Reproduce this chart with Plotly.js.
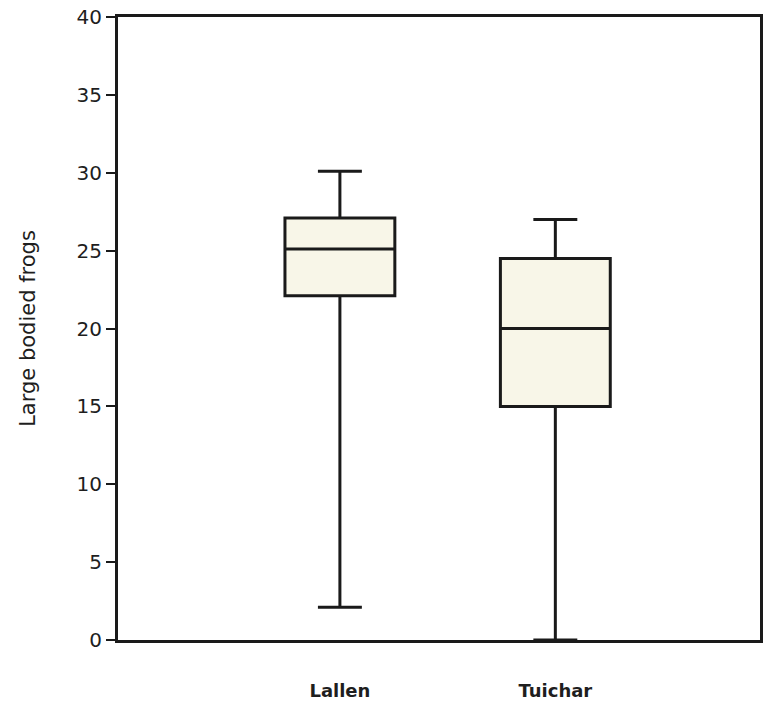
<!DOCTYPE html>
<html>
<head>
<meta charset="utf-8">
<script src="https://cdn.plot.ly/plotly-3.0.1.min.js"></script>
<style>
  html, body { margin: 0; padding: 0; background: #ffffff; }
  #chart { width: 765px; height: 702px; }
</style>
</head>
<body>
<div id="chart"></div>
<script>
// Sites and their five-number summaries of large bodied frog counts
const sites = ["Lallen", "Tuichar"];
const lowerWhisker = [2.1, 0];
const quartile1 = [22.1, 15.0];
const medians = [25.1, 20.0];
const quartile3 = [27.1, 24.5];
const upperWhisker = [30.1, 27.0];

const yTicks = [0, 5, 10, 15, 20, 25, 30, 35, 40];

const trace = {
  type: "box",
  x: sites,
  lowerfence: lowerWhisker,
  q1: quartile1,
  median: medians,
  q3: quartile3,
  upperfence: upperWhisker,
  boxpoints: false,
  width: 0.51,
  whiskerwidth: 0.4,
  fillcolor: "#f8f6e8",
  line: { color: "#1a1a1a", width: 3 },
  hoverinfo: "skip",
  showlegend: false
};

const layout = {
  width: 765,
  height: 702,
  margin: { l: 118, r: 5, t: 17, b: 62 },
  paper_bgcolor: "#ffffff",
  plot_bgcolor: "#ffffff",
  font: { family: "DejaVu Sans, Verdana, sans-serif", color: "#1e1e1e" },
  xaxis: {
    type: "category",
    range: [-1.03, 1.95],
    showgrid: false,
    zeroline: false,
    showline: true,
    linecolor: "#1a1a1a",
    linewidth: 3,
    mirror: true,
    ticks: "",
    tickfont: { size: 18, color: "#1e1e1e", weight: "bold" },
    ticklabelstandoff: 32
  },
  yaxis: {
    range: [0, 40],
    tickvals: yTicks,
    ticktext: yTicks.map(String),
    showgrid: false,
    zeroline: false,
    showline: true,
    linecolor: "#1a1a1a",
    linewidth: 3,
    mirror: true,
    ticks: "outside",
    ticklen: 9,
    tickwidth: 2,
    tickcolor: "#1a1a1a",
    tickfont: { size: 20, color: "#1e1e1e" },
    title: {
      text: "Large bodied frogs",
      font: { size: 21, color: "#1e1e1e" },
      standoff: 36
    }
  }
};

Plotly.newPlot("chart", [trace], layout, { displayModeBar: false, staticPlot: true });
</script>
</body>
</html>
